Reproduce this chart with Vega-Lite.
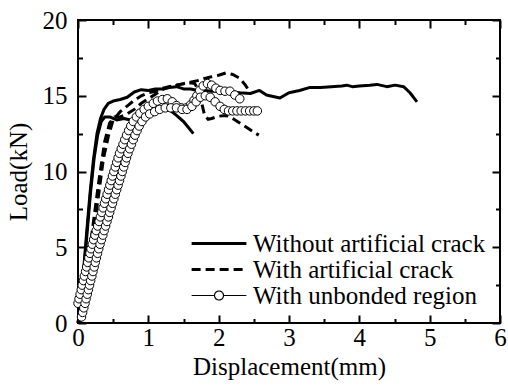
{
  "$schema": "https://vega.github.io/schema/vega-lite/v6.json",
  "width": 422,
  "height": 303,
  "autosize": {"type": "none"},
  "padding": {"left": 78, "top": 20, "right": 8, "bottom": 66},
  "background": "white",
  "config": {
    "view": {"stroke": "black", "strokeWidth": 2},
    "font": "Liberation Serif",
    "axis": {
      "grid": false,
      "domain": false,
      "ticks": true,
      "tickColor": "black",
      "tickWidth": 2,
      "labelColor": "black",
      "labelFont": "Liberation Serif",
      "labelFontSize": 25,
      "labelFlush": false,
      "labelOverlap": false,
      "labelBound": false,
      "titleFont": "Liberation Serif",
      "titleFontSize": 25,
      "titleFontWeight": "normal",
      "titleColor": "black"
    }
  },
  "datasets": {
    "curves": [
      {"series": "Without artificial crack", "spec": "w1", "x": 0, "y": 0},
      {"series": "Without artificial crack", "spec": "w1", "x": 0.03, "y": 1},
      {"series": "Without artificial crack", "spec": "w1", "x": 0.08, "y": 3.5},
      {"series": "Without artificial crack", "spec": "w1", "x": 0.12, "y": 5.8},
      {"series": "Without artificial crack", "spec": "w1", "x": 0.17, "y": 8.5},
      {"series": "Without artificial crack", "spec": "w1", "x": 0.22, "y": 10.8},
      {"series": "Without artificial crack", "spec": "w1", "x": 0.27, "y": 12.5},
      {"series": "Without artificial crack", "spec": "w1", "x": 0.32, "y": 13.5},
      {"series": "Without artificial crack", "spec": "w1", "x": 0.37, "y": 14.1},
      {"series": "Without artificial crack", "spec": "w1", "x": 0.43, "y": 14.5},
      {"series": "Without artificial crack", "spec": "w1", "x": 0.5, "y": 14.65},
      {"series": "Without artificial crack", "spec": "w1", "x": 0.6, "y": 14.75},
      {"series": "Without artificial crack", "spec": "w1", "x": 0.7, "y": 14.9},
      {"series": "Without artificial crack", "spec": "w1", "x": 0.8, "y": 15.25},
      {"series": "Without artificial crack", "spec": "w1", "x": 0.9, "y": 15.4},
      {"series": "Without artificial crack", "spec": "w1", "x": 1.0, "y": 15.35},
      {"series": "Without artificial crack", "spec": "w1", "x": 1.1, "y": 15.45},
      {"series": "Without artificial crack", "spec": "w1", "x": 1.2, "y": 15.45},
      {"series": "Without artificial crack", "spec": "w1", "x": 1.3, "y": 15.55},
      {"series": "Without artificial crack", "spec": "w1", "x": 1.4, "y": 15.6},
      {"series": "Without artificial crack", "spec": "w1", "x": 1.5, "y": 15.45},
      {"series": "Without artificial crack", "spec": "w1", "x": 1.6, "y": 15.45},
      {"series": "Without artificial crack", "spec": "w1", "x": 1.7, "y": 15.35},
      {"series": "Without artificial crack", "spec": "w1", "x": 1.8, "y": 15.35},
      {"series": "Without artificial crack", "spec": "w1", "x": 1.9, "y": 15.3},
      {"series": "Without artificial crack", "spec": "w1", "x": 2.0, "y": 15.3},
      {"series": "Without artificial crack", "spec": "w1", "x": 2.1, "y": 15.25},
      {"series": "Without artificial crack", "spec": "w1", "x": 2.2, "y": 15.25},
      {"series": "Without artificial crack", "spec": "w1", "x": 2.3, "y": 15.2},
      {"series": "Without artificial crack", "spec": "w1", "x": 2.45, "y": 15.15},
      {"series": "Without artificial crack", "spec": "w1", "x": 2.58, "y": 15.35},
      {"series": "Without artificial crack", "spec": "w1", "x": 2.68, "y": 15.05},
      {"series": "Without artificial crack", "spec": "w1", "x": 2.87, "y": 14.85},
      {"series": "Without artificial crack", "spec": "w1", "x": 3.0, "y": 15.2},
      {"series": "Without artificial crack", "spec": "w1", "x": 3.15, "y": 15.35},
      {"series": "Without artificial crack", "spec": "w1", "x": 3.3, "y": 15.55},
      {"series": "Without artificial crack", "spec": "w1", "x": 3.45, "y": 15.55},
      {"series": "Without artificial crack", "spec": "w1", "x": 3.6, "y": 15.6},
      {"series": "Without artificial crack", "spec": "w1", "x": 3.75, "y": 15.65},
      {"series": "Without artificial crack", "spec": "w1", "x": 3.82, "y": 15.7},
      {"series": "Without artificial crack", "spec": "w1", "x": 3.9, "y": 15.6},
      {"series": "Without artificial crack", "spec": "w1", "x": 4.0, "y": 15.65},
      {"series": "Without artificial crack", "spec": "w1", "x": 4.15, "y": 15.7},
      {"series": "Without artificial crack", "spec": "w1", "x": 4.25, "y": 15.75},
      {"series": "Without artificial crack", "spec": "w1", "x": 4.39, "y": 15.6},
      {"series": "Without artificial crack", "spec": "w1", "x": 4.51, "y": 15.7},
      {"series": "Without artificial crack", "spec": "w1", "x": 4.63, "y": 15.6},
      {"series": "Without artificial crack", "spec": "w1", "x": 4.72, "y": 15.2},
      {"series": "Without artificial crack", "spec": "w1", "x": 4.82, "y": 14.6},

      {"series": "Without artificial crack", "spec": "w2", "x": 0, "y": 0},
      {"series": "Without artificial crack", "spec": "w2", "x": 0.04, "y": 1.2},
      {"series": "Without artificial crack", "spec": "w2", "x": 0.09, "y": 3.8},
      {"series": "Without artificial crack", "spec": "w2", "x": 0.13, "y": 6.0},
      {"series": "Without artificial crack", "spec": "w2", "x": 0.18, "y": 8.7},
      {"series": "Without artificial crack", "spec": "w2", "x": 0.23, "y": 10.9},
      {"series": "Without artificial crack", "spec": "w2", "x": 0.28, "y": 12.4},
      {"series": "Without artificial crack", "spec": "w2", "x": 0.33, "y": 13.3},
      {"series": "Without artificial crack", "spec": "w2", "x": 0.38, "y": 13.6},
      {"series": "Without artificial crack", "spec": "w2", "x": 0.45, "y": 13.6},
      {"series": "Without artificial crack", "spec": "w2", "x": 0.55, "y": 13.4},
      {"series": "Without artificial crack", "spec": "w2", "x": 0.65, "y": 13.5},
      {"series": "Without artificial crack", "spec": "w2", "x": 0.75, "y": 13.4},
      {"series": "Without artificial crack", "spec": "w2", "x": 0.85, "y": 13.5},
      {"series": "Without artificial crack", "spec": "w2", "x": 0.95, "y": 13.7},
      {"series": "Without artificial crack", "spec": "w2", "x": 1.05, "y": 13.9},
      {"series": "Without artificial crack", "spec": "w2", "x": 1.15, "y": 14.0},
      {"series": "Without artificial crack", "spec": "w2", "x": 1.25, "y": 14.1},
      {"series": "Without artificial crack", "spec": "w2", "x": 1.32, "y": 14.0},
      {"series": "Without artificial crack", "spec": "w2", "x": 1.4, "y": 13.7},
      {"series": "Without artificial crack", "spec": "w2", "x": 1.5, "y": 13.3},
      {"series": "Without artificial crack", "spec": "w2", "x": 1.57, "y": 12.9},
      {"series": "Without artificial crack", "spec": "w2", "x": 1.64, "y": 12.5},

      {"series": "With artificial crack", "spec": "c1", "x": 0.02, "y": 0},
      {"series": "With artificial crack", "spec": "c1", "x": 0.1, "y": 2.5},
      {"series": "With artificial crack", "spec": "c1", "x": 0.2, "y": 5.5},
      {"series": "With artificial crack", "spec": "c1", "x": 0.28, "y": 8.0},
      {"series": "With artificial crack", "spec": "c1", "x": 0.36, "y": 10.8},
      {"series": "With artificial crack", "spec": "c1", "x": 0.43, "y": 12.3},
      {"series": "With artificial crack", "spec": "c1", "x": 0.5, "y": 13.4},
      {"series": "With artificial crack", "spec": "c1", "x": 0.6, "y": 13.95},
      {"series": "With artificial crack", "spec": "c1", "x": 0.72, "y": 14.4},
      {"series": "With artificial crack", "spec": "c1", "x": 0.8, "y": 14.7},
      {"series": "With artificial crack", "spec": "c1", "x": 0.9, "y": 15.0},
      {"series": "With artificial crack", "spec": "c1", "x": 1.0, "y": 15.2},
      {"series": "With artificial crack", "spec": "c1", "x": 1.1, "y": 15.3},
      {"series": "With artificial crack", "spec": "c1", "x": 1.2, "y": 15.5},
      {"series": "With artificial crack", "spec": "c1", "x": 1.3, "y": 15.6},
      {"series": "With artificial crack", "spec": "c1", "x": 1.4, "y": 15.7},
      {"series": "With artificial crack", "spec": "c1", "x": 1.5, "y": 15.8},
      {"series": "With artificial crack", "spec": "c1", "x": 1.6, "y": 15.9},
      {"series": "With artificial crack", "spec": "c1", "x": 1.7, "y": 16.0},
      {"series": "With artificial crack", "spec": "c1", "x": 1.8, "y": 16.15},
      {"series": "With artificial crack", "spec": "c1", "x": 1.9, "y": 16.25},
      {"series": "With artificial crack", "spec": "c1", "x": 2.0, "y": 16.35},
      {"series": "With artificial crack", "spec": "c1", "x": 2.1, "y": 16.5},
      {"series": "With artificial crack", "spec": "c1", "x": 2.2, "y": 16.4},
      {"series": "With artificial crack", "spec": "c1", "x": 2.3, "y": 16.15},
      {"series": "With artificial crack", "spec": "c1", "x": 2.38, "y": 15.7},
      {"series": "With artificial crack", "spec": "c1", "x": 2.45, "y": 15.2},

      {"series": "With artificial crack", "spec": "c2", "x": 0.03, "y": 0},
      {"series": "With artificial crack", "spec": "c2", "x": 0.12, "y": 3},
      {"series": "With artificial crack", "spec": "c2", "x": 0.2, "y": 6},
      {"series": "With artificial crack", "spec": "c2", "x": 0.3, "y": 9.5},
      {"series": "With artificial crack", "spec": "c2", "x": 0.38, "y": 12.0},
      {"series": "With artificial crack", "spec": "c2", "x": 0.45, "y": 13.2},
      {"series": "With artificial crack", "spec": "c2", "x": 0.52, "y": 13.6},
      {"series": "With artificial crack", "spec": "c2", "x": 0.6, "y": 13.6},
      {"series": "With artificial crack", "spec": "c2", "x": 0.7, "y": 13.8},
      {"series": "With artificial crack", "spec": "c2", "x": 0.8, "y": 14.1},
      {"series": "With artificial crack", "spec": "c2", "x": 0.9, "y": 14.5},
      {"series": "With artificial crack", "spec": "c2", "x": 1.0, "y": 14.8},
      {"series": "With artificial crack", "spec": "c2", "x": 1.1, "y": 15.1},
      {"series": "With artificial crack", "spec": "c2", "x": 1.2, "y": 15.4},
      {"series": "With artificial crack", "spec": "c2", "x": 1.3, "y": 15.6},
      {"series": "With artificial crack", "spec": "c2", "x": 1.45, "y": 15.75},
      {"series": "With artificial crack", "spec": "c2", "x": 1.6, "y": 15.85},
      {"series": "With artificial crack", "spec": "c2", "x": 1.66, "y": 15.8},
      {"series": "With artificial crack", "spec": "c2", "x": 1.72, "y": 15.3},
      {"series": "With artificial crack", "spec": "c2", "x": 1.76, "y": 14.5},
      {"series": "With artificial crack", "spec": "c2", "x": 1.8, "y": 13.7},
      {"series": "With artificial crack", "spec": "c2", "x": 1.85, "y": 13.45},
      {"series": "With artificial crack", "spec": "c2", "x": 1.9, "y": 13.5},
      {"series": "With artificial crack", "spec": "c2", "x": 2.0, "y": 13.65},
      {"series": "With artificial crack", "spec": "c2", "x": 2.1, "y": 13.7},
      {"series": "With artificial crack", "spec": "c2", "x": 2.2, "y": 13.5},
      {"series": "With artificial crack", "spec": "c2", "x": 2.3, "y": 13.2},
      {"series": "With artificial crack", "spec": "c2", "x": 2.4, "y": 12.9},
      {"series": "With artificial crack", "spec": "c2", "x": 2.5, "y": 12.6},
      {"series": "With artificial crack", "spec": "c2", "x": 2.57, "y": 12.4},

      {"series": "With unbonded region", "spec": "u1", "x": 0.0, "y": 1.3},
      {"series": "With unbonded region", "spec": "u1", "x": 0.015, "y": 1.6},
      {"series": "With unbonded region", "spec": "u1", "x": 0.03, "y": 1.9},
      {"series": "With unbonded region", "spec": "u1", "x": 0.046, "y": 2.2},
      {"series": "With unbonded region", "spec": "u1", "x": 0.06, "y": 2.5},
      {"series": "With unbonded region", "spec": "u1", "x": 0.077, "y": 2.8},
      {"series": "With unbonded region", "spec": "u1", "x": 0.09, "y": 3.1},
      {"series": "With unbonded region", "spec": "u1", "x": 0.108, "y": 3.4},
      {"series": "With unbonded region", "spec": "u1", "x": 0.123, "y": 3.7},
      {"series": "With unbonded region", "spec": "u1", "x": 0.138, "y": 4.0},
      {"series": "With unbonded region", "spec": "u1", "x": 0.154, "y": 4.3},
      {"series": "With unbonded region", "spec": "u1", "x": 0.17, "y": 4.6},
      {"series": "With unbonded region", "spec": "u1", "x": 0.185, "y": 4.9},
      {"series": "With unbonded region", "spec": "u1", "x": 0.203, "y": 5.2},
      {"series": "With unbonded region", "spec": "u1", "x": 0.222, "y": 5.5},
      {"series": "With unbonded region", "spec": "u1", "x": 0.241, "y": 5.8},
      {"series": "With unbonded region", "spec": "u1", "x": 0.26, "y": 6.1},
      {"series": "With unbonded region", "spec": "u1", "x": 0.28, "y": 6.4},
      {"series": "With unbonded region", "spec": "u1", "x": 0.3, "y": 6.7},
      {"series": "With unbonded region", "spec": "u1", "x": 0.318, "y": 7.0},
      {"series": "With unbonded region", "spec": "u1", "x": 0.337, "y": 7.3},
      {"series": "With unbonded region", "spec": "u1", "x": 0.357, "y": 7.6},
      {"series": "With unbonded region", "spec": "u1", "x": 0.376, "y": 7.9},
      {"series": "With unbonded region", "spec": "u1", "x": 0.395, "y": 8.2},
      {"series": "With unbonded region", "spec": "u1", "x": 0.414, "y": 8.5},
      {"series": "With unbonded region", "spec": "u1", "x": 0.434, "y": 8.8},
      {"series": "With unbonded region", "spec": "u1", "x": 0.453, "y": 9.1},
      {"series": "With unbonded region", "spec": "u1", "x": 0.472, "y": 9.4},
      {"series": "With unbonded region", "spec": "u1", "x": 0.49, "y": 9.7},
      {"series": "With unbonded region", "spec": "u1", "x": 0.51, "y": 10.0},
      {"series": "With unbonded region", "spec": "u1", "x": 0.53, "y": 10.3},
      {"series": "With unbonded region", "spec": "u1", "x": 0.55, "y": 10.6},
      {"series": "With unbonded region", "spec": "u1", "x": 0.57, "y": 10.9},
      {"series": "With unbonded region", "spec": "u1", "x": 0.59, "y": 11.2},
      {"series": "With unbonded region", "spec": "u1", "x": 0.615, "y": 11.5},
      {"series": "With unbonded region", "spec": "u1", "x": 0.64, "y": 11.8},
      {"series": "With unbonded region", "spec": "u1", "x": 0.665, "y": 12.1},
      {"series": "With unbonded region", "spec": "u1", "x": 0.69, "y": 12.4},
      {"series": "With unbonded region", "spec": "u1", "x": 0.72, "y": 12.7},
      {"series": "With unbonded region", "spec": "u1", "x": 0.75, "y": 13.0},
      {"series": "With unbonded region", "spec": "u1", "x": 0.785, "y": 13.3},
      {"series": "With unbonded region", "spec": "u1", "x": 0.83, "y": 13.6},
      {"series": "With unbonded region", "spec": "u1", "x": 0.88, "y": 13.85},
      {"series": "With unbonded region", "spec": "u1", "x": 0.94, "y": 14.1},
      {"series": "With unbonded region", "spec": "u1", "x": 1.0, "y": 14.3},
      {"series": "With unbonded region", "spec": "u1", "x": 1.07, "y": 14.5},
      {"series": "With unbonded region", "spec": "u1", "x": 1.13, "y": 14.65},
      {"series": "With unbonded region", "spec": "u1", "x": 1.2, "y": 14.75},
      {"series": "With unbonded region", "spec": "u1", "x": 1.27, "y": 14.8},
      {"series": "With unbonded region", "spec": "u1", "x": 1.34, "y": 14.6},
      {"series": "With unbonded region", "spec": "u1", "x": 1.4, "y": 14.35},
      {"series": "With unbonded region", "spec": "u1", "x": 1.47, "y": 14.2},
      {"series": "With unbonded region", "spec": "u1", "x": 1.54, "y": 14.2},
      {"series": "With unbonded region", "spec": "u1", "x": 1.6, "y": 14.4},
      {"series": "With unbonded region", "spec": "u1", "x": 1.65, "y": 14.7},
      {"series": "With unbonded region", "spec": "u1", "x": 1.69, "y": 15.0},
      {"series": "With unbonded region", "spec": "u1", "x": 1.73, "y": 15.35},
      {"series": "With unbonded region", "spec": "u1", "x": 1.78, "y": 15.65},
      {"series": "With unbonded region", "spec": "u1", "x": 1.84, "y": 15.8},
      {"series": "With unbonded region", "spec": "u1", "x": 1.9, "y": 15.7},
      {"series": "With unbonded region", "spec": "u1", "x": 1.96, "y": 15.5},
      {"series": "With unbonded region", "spec": "u1", "x": 2.02, "y": 15.35},
      {"series": "With unbonded region", "spec": "u1", "x": 2.09, "y": 15.3},
      {"series": "With unbonded region", "spec": "u1", "x": 2.16, "y": 15.3},
      {"series": "With unbonded region", "spec": "u1", "x": 2.23, "y": 15.05},
      {"series": "With unbonded region", "spec": "u1", "x": 2.3, "y": 14.8},

      {"series": "With unbonded region", "spec": "u2", "x": 0.05, "y": 0.4},
      {"series": "With unbonded region", "spec": "u2", "x": 0.066, "y": 0.7},
      {"series": "With unbonded region", "spec": "u2", "x": 0.083, "y": 1.0},
      {"series": "With unbonded region", "spec": "u2", "x": 0.1, "y": 1.3},
      {"series": "With unbonded region", "spec": "u2", "x": 0.115, "y": 1.6},
      {"series": "With unbonded region", "spec": "u2", "x": 0.132, "y": 1.9},
      {"series": "With unbonded region", "spec": "u2", "x": 0.148, "y": 2.2},
      {"series": "With unbonded region", "spec": "u2", "x": 0.164, "y": 2.5},
      {"series": "With unbonded region", "spec": "u2", "x": 0.18, "y": 2.8},
      {"series": "With unbonded region", "spec": "u2", "x": 0.197, "y": 3.1},
      {"series": "With unbonded region", "spec": "u2", "x": 0.213, "y": 3.4},
      {"series": "With unbonded region", "spec": "u2", "x": 0.23, "y": 3.7},
      {"series": "With unbonded region", "spec": "u2", "x": 0.245, "y": 4.0},
      {"series": "With unbonded region", "spec": "u2", "x": 0.262, "y": 4.3},
      {"series": "With unbonded region", "spec": "u2", "x": 0.278, "y": 4.6},
      {"series": "With unbonded region", "spec": "u2", "x": 0.295, "y": 4.9},
      {"series": "With unbonded region", "spec": "u2", "x": 0.313, "y": 5.2},
      {"series": "With unbonded region", "spec": "u2", "x": 0.333, "y": 5.5},
      {"series": "With unbonded region", "spec": "u2", "x": 0.353, "y": 5.8},
      {"series": "With unbonded region", "spec": "u2", "x": 0.372, "y": 6.1},
      {"series": "With unbonded region", "spec": "u2", "x": 0.392, "y": 6.4},
      {"series": "With unbonded region", "spec": "u2", "x": 0.412, "y": 6.7},
      {"series": "With unbonded region", "spec": "u2", "x": 0.432, "y": 7.0},
      {"series": "With unbonded region", "spec": "u2", "x": 0.45, "y": 7.3},
      {"series": "With unbonded region", "spec": "u2", "x": 0.47, "y": 7.6},
      {"series": "With unbonded region", "spec": "u2", "x": 0.49, "y": 7.9},
      {"series": "With unbonded region", "spec": "u2", "x": 0.51, "y": 8.2},
      {"series": "With unbonded region", "spec": "u2", "x": 0.53, "y": 8.5},
      {"series": "With unbonded region", "spec": "u2", "x": 0.55, "y": 8.8},
      {"series": "With unbonded region", "spec": "u2", "x": 0.57, "y": 9.1},
      {"series": "With unbonded region", "spec": "u2", "x": 0.59, "y": 9.4},
      {"series": "With unbonded region", "spec": "u2", "x": 0.61, "y": 9.7},
      {"series": "With unbonded region", "spec": "u2", "x": 0.63, "y": 10.0},
      {"series": "With unbonded region", "spec": "u2", "x": 0.65, "y": 10.3},
      {"series": "With unbonded region", "spec": "u2", "x": 0.67, "y": 10.6},
      {"series": "With unbonded region", "spec": "u2", "x": 0.69, "y": 10.9},
      {"series": "With unbonded region", "spec": "u2", "x": 0.71, "y": 11.2},
      {"series": "With unbonded region", "spec": "u2", "x": 0.735, "y": 11.5},
      {"series": "With unbonded region", "spec": "u2", "x": 0.76, "y": 11.8},
      {"series": "With unbonded region", "spec": "u2", "x": 0.785, "y": 12.1},
      {"series": "With unbonded region", "spec": "u2", "x": 0.81, "y": 12.4},
      {"series": "With unbonded region", "spec": "u2", "x": 0.84, "y": 12.7},
      {"series": "With unbonded region", "spec": "u2", "x": 0.87, "y": 13.0},
      {"series": "With unbonded region", "spec": "u2", "x": 0.91, "y": 13.3},
      {"series": "With unbonded region", "spec": "u2", "x": 0.96, "y": 13.6},
      {"series": "With unbonded region", "spec": "u2", "x": 1.02, "y": 13.8},
      {"series": "With unbonded region", "spec": "u2", "x": 1.09, "y": 13.95},
      {"series": "With unbonded region", "spec": "u2", "x": 1.16, "y": 14.1},
      {"series": "With unbonded region", "spec": "u2", "x": 1.24, "y": 14.2},
      {"series": "With unbonded region", "spec": "u2", "x": 1.32, "y": 14.2},
      {"series": "With unbonded region", "spec": "u2", "x": 1.4, "y": 14.2},
      {"series": "With unbonded region", "spec": "u2", "x": 1.48, "y": 14.1},
      {"series": "With unbonded region", "spec": "u2", "x": 1.55, "y": 14.1},
      {"series": "With unbonded region", "spec": "u2", "x": 1.62, "y": 14.3},
      {"series": "With unbonded region", "spec": "u2", "x": 1.68, "y": 14.6},
      {"series": "With unbonded region", "spec": "u2", "x": 1.74, "y": 14.9},
      {"series": "With unbonded region", "spec": "u2", "x": 1.81, "y": 15.0},
      {"series": "With unbonded region", "spec": "u2", "x": 1.88, "y": 14.9},
      {"series": "With unbonded region", "spec": "u2", "x": 1.95, "y": 14.6},
      {"series": "With unbonded region", "spec": "u2", "x": 2.02, "y": 14.3},
      {"series": "With unbonded region", "spec": "u2", "x": 2.08, "y": 14.1},
      {"series": "With unbonded region", "spec": "u2", "x": 2.14, "y": 14.0},
      {"series": "With unbonded region", "spec": "u2", "x": 2.2, "y": 14.0},
      {"series": "With unbonded region", "spec": "u2", "x": 2.26, "y": 14.0},
      {"series": "With unbonded region", "spec": "u2", "x": 2.32, "y": 14.0},
      {"series": "With unbonded region", "spec": "u2", "x": 2.38, "y": 14.0},
      {"series": "With unbonded region", "spec": "u2", "x": 2.44, "y": 14.0},
      {"series": "With unbonded region", "spec": "u2", "x": 2.5, "y": 14.0},
      {"series": "With unbonded region", "spec": "u2", "x": 2.55, "y": 14.0}
    ]
  },
  "data": {"name": "curves"},
  "layer": [
    {
      "transform": [{"filter": "datum.series === 'Without artificial crack'"}],
      "mark": {"type": "line", "color": "black", "strokeWidth": 3, "strokeJoin": "round"},
      "encoding": {
        "x": {
          "field": "x", "type": "quantitative",
          "scale": {"domain": [0, 6], "nice": false, "zero": false},
          "axis": {
            "orient": "bottom",
            "title": "Displacement(mm)",
            "values": [0, 1, 2, 3, 4, 5, 6],
            "format": "d",
            "tickSize": -8,
            "labelPadding": 10,
            "titlePadding": 4
          }
        },
        "y": {
          "field": "y", "type": "quantitative",
          "scale": {"domain": [0, 20], "nice": false, "zero": false},
          "axis": {
            "orient": "left",
            "title": "Load(kN)",
            "values": [0, 5, 10, 15, 20],
            "format": "d",
            "tickSize": -8,
            "labelPadding": 19,
            "titlePadding": 11
          }
        },
        "detail": {"field": "spec", "type": "nominal"}
      }
    },
    {
      "transform": [{"filter": "datum.series === 'With artificial crack'"}],
      "mark": {"type": "line", "color": "black", "strokeWidth": 3, "strokeDash": [9, 5]},
      "encoding": {
        "x": {
          "field": "x", "type": "quantitative",
          "axis": {"orient": "top", "title": null, "labels": false, "values": [0, 1, 2, 3, 4, 5, 6], "tickSize": -8}
        },
        "y": {
          "field": "y", "type": "quantitative",
          "axis": {"orient": "right", "title": null, "labels": false, "values": [0, 5, 10, 15, 20], "tickSize": -8}
        },
        "detail": {"field": "spec", "type": "nominal"}
      }
    },
    {
      "transform": [{"filter": "datum.series === 'With unbonded region'"}],
      "mark": {"type": "line", "color": "black", "strokeWidth": 1.2},
      "encoding": {
        "x": {
          "field": "x", "type": "quantitative",
          "axis": {"orient": "bottom", "title": null, "labels": false, "values": [0.5, 1.5, 2.5, 3.5, 4.5, 5.5], "tickSize": -4.5}
        },
        "y": {
          "field": "y", "type": "quantitative",
          "axis": {"orient": "left", "title": null, "labels": false, "values": [2.5, 7.5, 12.5, 17.5], "tickSize": -4.5}
        },
        "detail": {"field": "spec", "type": "nominal"}
      }
    },
    {
      "transform": [{"filter": "datum.series === 'With unbonded region'"}],
      "mark": {"type": "point", "shape": "circle", "filled": true, "fill": "white", "stroke": "black", "strokeWidth": 1, "size": 72, "opacity": 1},
      "encoding": {
        "x": {
          "field": "x", "type": "quantitative",
          "axis": {"orient": "top", "title": null, "labels": false, "values": [0.5, 1.5, 2.5, 3.5, 4.5, 5.5], "tickSize": -4.5}
        },
        "y": {
          "field": "y", "type": "quantitative",
          "axis": {"orient": "right", "title": null, "labels": false, "values": [2.5, 7.5, 12.5, 17.5], "tickSize": -4.5}
        }
      }
    },
    {
      "transform": [{"filter": "false"}],
      "mark": {"type": "point", "filled": true, "fill": "white", "stroke": "black", "opacity": 1},
      "encoding": {
        "shape": {
          "field": "series", "type": "nominal",
          "scale": {
            "domain": ["Without artificial crack", "With artificial crack", "With unbonded region"],
            "range": ["M-1,0H1", "M-1,0H1", "M-1,0H-0.164M0.164,0H1M-0.164,0A0.164,0.164,0,1,1,0.164,0A0.164,0.164,0,1,1,-0.164,0Z"]
          },
          "legend": {
            "title": null, "orient": "none", "legendX": 112, "legendY": 211,
            "symbolSize": 3000, "clipHeight": 25, "rowPadding": 0, "padding": 0,
            "labelFont": "Liberation Serif", "labelFontSize": 25, "labelColor": "black", "labelOffset": 5, "labelLimit": 0
          }
        },
        "strokeDash": {
          "field": "series", "type": "nominal",
          "scale": {
            "domain": ["Without artificial crack", "With artificial crack", "With unbonded region"],
            "range": [[1, 0], [9, 5], [1, 0]]
          },
          "legend": {
            "title": null, "orient": "none", "legendX": 112, "legendY": 211,
            "symbolSize": 3000, "clipHeight": 25, "rowPadding": 0, "padding": 0,
            "labelFont": "Liberation Serif", "labelFontSize": 25, "labelColor": "black", "labelOffset": 5, "labelLimit": 0
          }
        },
        "strokeWidth": {
          "field": "series", "type": "nominal",
          "scale": {
            "type": "ordinal",
            "domain": ["Without artificial crack", "With artificial crack", "With unbonded region"],
            "range": [3, 3, 1.2]
          },
          "legend": {
            "title": null, "orient": "none", "legendX": 112, "legendY": 211,
            "symbolSize": 3000, "clipHeight": 25, "rowPadding": 0, "padding": 0,
            "labelFont": "Liberation Serif", "labelFontSize": 25, "labelColor": "black", "labelOffset": 5, "labelLimit": 0
          }
        }
      }
    }
  ],
  "resolve": {"axis": {"x": "independent", "y": "independent"}}
}
